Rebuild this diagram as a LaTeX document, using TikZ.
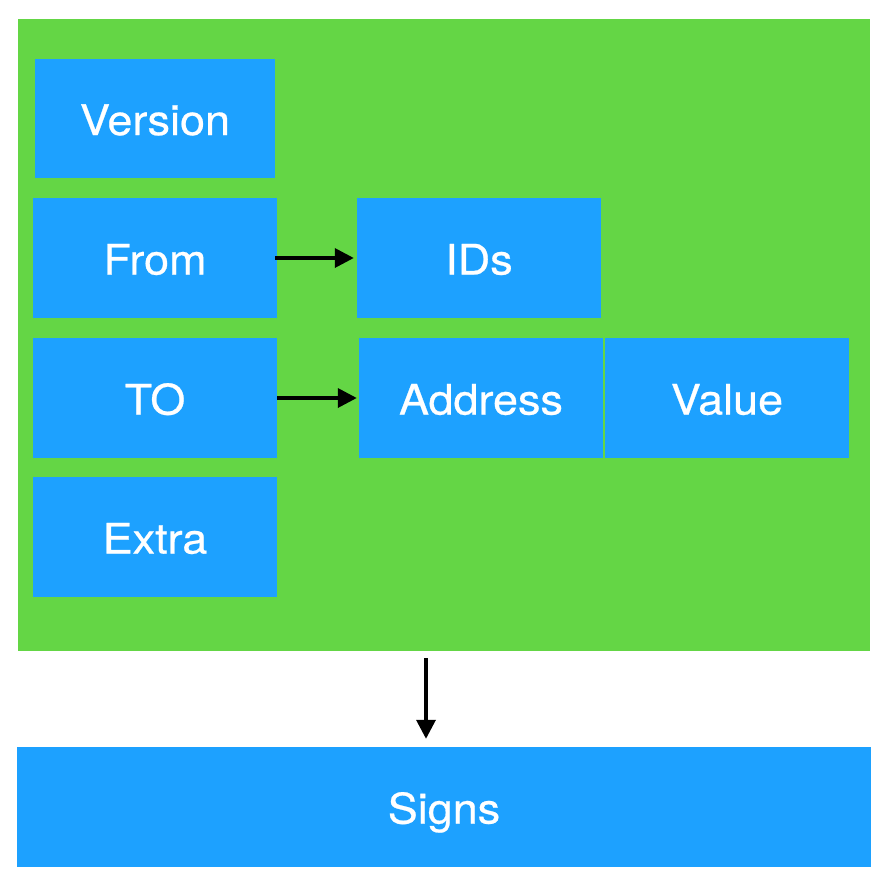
\documentclass[tikz,border=0pt]{standalone}
\usepackage{fontspec}
\setmainfont{TeX Gyre Heros}[FakeStretch=1.07, FakeBold=0.6]
\usetikzlibrary{arrows.meta}
\definecolor{panelgreen}{RGB}{100,214,69}
\definecolor{fieldblue}{RGB}{29,161,255}

\begin{document}
\begin{tikzpicture}[x=1pt, y=-1pt,
    field/.style={fill=fieldblue, text=white, inner sep=0pt,
                  minimum width=244pt, minimum height=120pt,
                  text height=33pt, text depth=0pt,
                  font=\fontsize{42}{46}\selectfont},
    flow/.style={-{Triangle[length=19pt,width=19pt]}, line width=3.5pt}]
          \useasboundingbox (0,0) rectangle (886,886);
          \node[fill=panelgreen, inner sep=0pt, minimum width=852pt,
                minimum height=632pt] (frame) at (444,335) {};

          \node[field, minimum width=240pt, minimum height=119pt]
                (version) at (155,118.5) {Version};
          \node[field] (from)    at (155,258) {From};
          \node[field] (ids)     at (479,258) {IDs};
          \node[field] (to)      at (155,398) {TO};
          \node[field] (address) at (481,398) {Address};
          \node[field] (value)   at (727,398) {Value};
          \node[field] (extra)   at (155,537) {Extra};
          \node[field, minimum width=854pt] (signs) at (444,807) {Signs};

          % Draw the arrows
          \draw[flow, shorten <=-2pt, shorten >=3pt] (from.east) -- (ids.west);
          \draw[flow, shorten <=0pt, shorten >=2pt] (to.east) -- (address.west);
          \draw[flow, shorten <=7pt, shorten >=8pt]
                ([xshift=-18pt]frame.south) -- ([xshift=-18pt]signs.north);
      \end{tikzpicture}
\end{document}
